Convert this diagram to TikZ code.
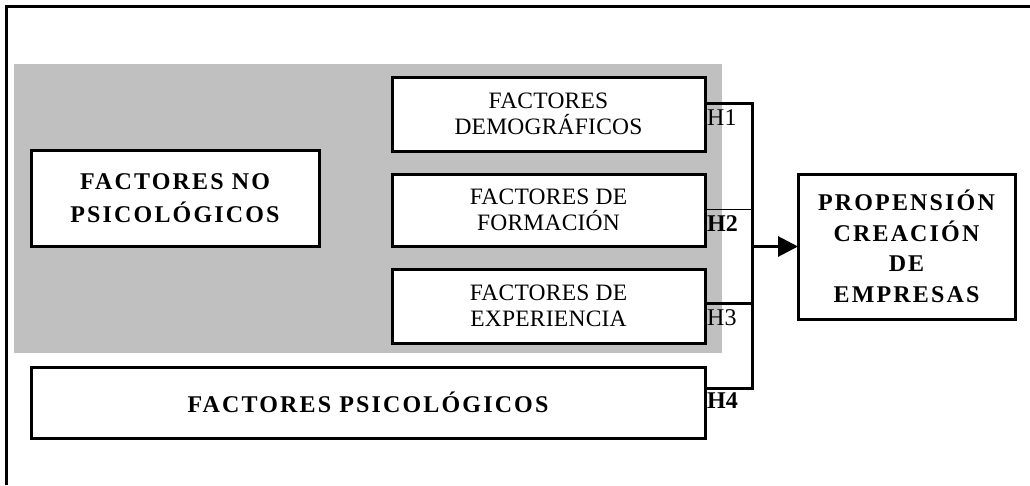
\documentclass[tikz,border=0pt]{standalone}
\usepackage{fontspec}
\setmainfont{Liberation Serif}
\newfontfamily\wideserif[LetterSpace=9]{Liberation Serif}
\newfontfamily\midserif[LetterSpace=1]{Liberation Serif}
\usetikzlibrary{arrows.meta}
\definecolor{shade}{RGB}{192,192,192}
\begin{document}
\begin{tikzpicture}[x=1pt,y=-1pt,
  box/.style={draw,line width=3pt,fill=white,inner sep=0pt,outer sep=0pt,align=center},
  regbox/.style={box,minimum width=313pt,font=\midserif\fontsize{23.5}{26}\selectfont},
  boldbox/.style={box,font=\wideserif\bfseries\fontsize{24}{33}\selectfont},
  hlab/.style={anchor=base west,inner sep=0pt,font=\fontsize{24}{24}\selectfont},
  wire/.style={line width=3pt},
  thinwire/.style={line width=1pt}]
\useasboundingbox (0,0) rectangle (1030,485);
% frame (top and left edges)
\draw[line width=3pt] (6.5,485) -- (6.5,6.5) -- (1030,6.5);
% gray region
\node[fill=shade,inner sep=0pt,outer sep=0pt,minimum width=708pt,minimum height=289pt] (bg) at (368,208.5) {};
% boxes
\node[boldbox,minimum width=288pt,minimum height=96pt] (np) at (175,198) {FACTORES NO\\PSICOLÓGICOS};
\node[regbox,minimum height=74pt] (demo) at (548.5,114) {FACTORES\\DEMOGRÁFICOS};
\node[regbox,minimum height=72pt] (form) at (548.5,210) {FACTORES DE\\FORMACIÓN};
\node[regbox,minimum height=74pt] (expe) at (548.5,306) {FACTORES DE\\EXPERIENCIA};
\node[boldbox,minimum width=674pt,minimum height=71pt] (psic) at (368,402.5) {FACTORES PSICOLÓGICOS};
\node[boldbox,minimum width=217pt,minimum height=145pt,font=\wideserif\bfseries\fontsize{24}{30.5}\selectfont] (prop) at (906.5,246.5) {PROPENSIÓN\\CREACIÓN\\DE\\EMPRESAS};
% bus coordinates
\coordinate (h1) at (752,103);
\coordinate (h2) at (752,209);
\coordinate (h3) at (752,303);
\coordinate (h4) at (752,388);
\coordinate (hm) at (752,246.5);
% connectors
\draw[wire] (h1 -| demo.east) -- (h1);
\draw[thinwire] (h2 -| form.east) -- (h2);
\draw[wire] (h3 -| expe.east) -- (h3);
\draw[wire] (h4 -| psic.east) -- (h4);
\draw[wire,line cap=rect] (h1) -- (h4);
\draw[wire,-{Triangle[length=20pt,width=20pt]}] (hm) -- (prop.west);
% labels
\node[hlab] (l1) at (707,125) {H1};
\node[hlab,font=\bfseries\fontsize{24}{24}\selectfont] (l2) at (707,231) {H2};
\node[hlab] (l3) at (707,325) {H3};
\node[hlab,font=\bfseries\fontsize{24}{24}\selectfont] (l4) at (707,408) {H4};
\end{tikzpicture}
\end{document}
